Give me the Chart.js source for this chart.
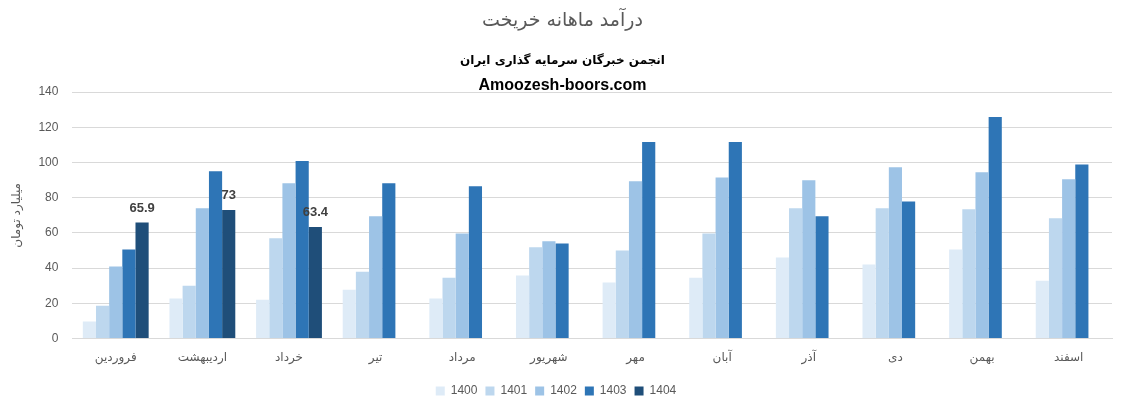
<!DOCTYPE html>
<html>
<head>
<meta charset="utf-8">
<script src="https://cdn.jsdelivr.net/npm/chart.js@4.4.1/dist/chart.umd.min.js"></script>
<style>
  html, body { margin: 0; padding: 0; background: #fff; }
  #wrap { width: 1125px; height: 413px; }
</style>
</head>
<body>
<div id="wrap"><canvas id="incomeChart"></canvas></div>
<script>
// monthly income data (billion toman)
const months = ['فروردین', 'اردیبهشت', 'خرداد', 'تیر', 'مرداد', 'شهریور', 'مهر', 'آبان', 'آذر', 'دی', 'بهمن', 'اسفند'];
const years = ['1400', '1401', '1402', '1403', '1404'];
const y1400 = [9.7, 22.7, 22, 27.8, 22.7, 35.8, 31.8, 34.6, 46, 42, 50.6, 32.9];
const y1401 = [18.7, 30, 56.9, 38, 34.6, 51.8, 50, 59.7, 74, 74, 73.4, 68.3];
const y1402 = [40.9, 74, 88.2, 69.4, 59.7, 55.2, 89.4, 91.5, 89.9, 97.3, 94.4, 90.4];
const y1403 = [50.6, 95, 100.8, 88.2, 86.5, 54, 111.6, 111.6, 69.4, 77.9, 125.8, 98.9];
const y1404 = [65.9, 73, 63.4, null, null, null, null, null, null, null, null, null];
const yTicks = [0, 20, 40, 60, 80, 100, 120, 140];

const colors = ['#DEEBF7', '#BDD7EE', '#9DC3E6', '#2E75B6', '#1F4E79'];
const seriesData = [y1400, y1401, y1402, y1403, y1404];

const titleText = 'درآمد ماهانه خریخت';
const subText = 'انجمن خبرگان سرمایه گذاری ایران';
const siteText = 'Amoozesh-boors.com';
const axisTitle = 'میلیارد تومان';

const persianFont = '"DejaVu Sans", sans-serif';

// header texts drawn over the top
const headerPlugin = {
    id: 'header',
    afterDraw(chart) {
        const c = chart.ctx;
        const cx = chart.width / 2;
        c.save();
        c.textAlign = 'center';
        c.textBaseline = 'middle';
        c.fillStyle = '#595959';
        c.font = '19px ' + persianFont;
        c.fillText(titleText, cx, 21);
        c.fillStyle = '#000';
        c.font = 'bold 12px ' + persianFont;
        c.fillText(subText, cx, 61);
        c.font = 'bold 16px "Liberation Sans", sans-serif';
        c.fillText(siteText, cx, 86);
        c.restore();
    }
};

// value labels on the 1404 series
const labelPlugin = {
    id: 'valueLabels',
    afterDatasetsDraw(chart) {
        const c = chart.ctx;
        const meta = chart.getDatasetMeta(4);
        c.save();
        c.textAlign = 'center';
        c.textBaseline = 'bottom';
        c.fillStyle = '#404040';
        c.font = 'bold 13px "Liberation Sans", sans-serif';
        meta.data.forEach((bar, i) => {
            const v = y1404[i];
            if (v == null) return;
            c.fillText(String(v), bar.x, bar.y - 8);
        });
        c.restore();
    }
};

new Chart(document.getElementById('incomeChart'), {
    type: 'bar',
    data: {
        labels: months,
        datasets: years.map((y, i) => ({
            label: y,
            data: seriesData[i],
            backgroundColor: colors[i],
            borderWidth: 0,
            categoryPercentage: 0.76,
            barPercentage: 1.0
        }))
    },
    options: {
        responsive: true,
        maintainAspectRatio: false,
        animation: false,
        layout: { padding: { top: 92, right: 13, left: 0, bottom: 6 } },
        plugins: {
            legend: {
                position: 'bottom',
                labels: {
                    color: '#595959',
                    font: { size: 12, family: '"Liberation Sans", sans-serif' },
                    boxWidth: 9,
                    boxHeight: 9,
                    padding: 8
                }
            },
            tooltip: { enabled: false }
        },
        scales: {
            x: {
                grid: { display: false, drawTicks: false },
                border: { color: '#D9D9D9' },
                ticks: {
                    color: '#595959',
                    font: { size: 12, family: persianFont },
                    padding: 12,
                    maxRotation: 0
                }
            },
            y: {
                min: 0,
                max: 140,
                afterBuildTicks(axis) { axis.ticks = yTicks.map(v => ({ value: v })); },
                grid: { color: '#D9D9D9', drawTicks: false },
                border: { display: false },
                ticks: {
                    color: '#595959',
                    font: { size: 12, family: '"Liberation Sans", sans-serif' },
                    padding: 14
                },
                title: {
                    display: true,
                    text: axisTitle,
                    color: '#595959',
                    font: { size: 12, family: persianFont },
                    padding: { top: 10, bottom: 0 }
                }
            }
        }
    },
    plugins: [headerPlugin, labelPlugin]
});
</script>
</body>
</html>
